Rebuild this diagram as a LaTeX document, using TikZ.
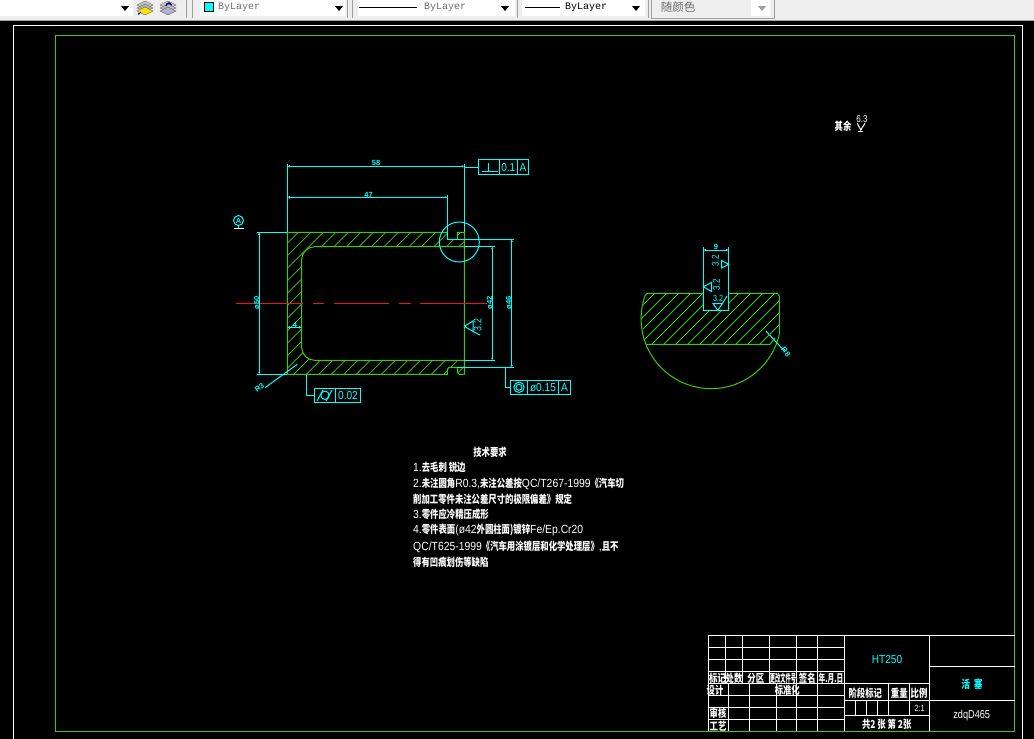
\documentclass[tikz,border=0pt]{standalone}
\usepackage{graphicx}
\usepackage{fontspec}
\setmainfont{Liberation Sans}
\newfontfamily\cadfont{Liberation Sans}[FakeStretch=0.8]
\newfontfamily\notefont{Liberation Sans}[FakeStretch=0.88]
\newfontfamily\monofont{Liberation Mono}
\newfontfamily\cjkfont{Noto Sans CJK SC}
\newfontfamily\cjknarrow{Noto Sans CJK SC}[FakeStretch=0.76]
\newcommand{\zh}[1]{{\cjknarrow\bfseries\fontsize{11}{11}\selectfont #1}}
\usepackage{tikz}
\usetikzlibrary{
    positioning,
    arrows.meta,
    calc
}
\definecolor{PartGreen}{RGB}{60,205,0}
\definecolor{DimCyan}{RGB}{0,255,255}
\definecolor{AxisRed}{RGB}{240,20,20}
\definecolor{BarGray}{RGB}{238,238,238}
\definecolor{EdgeGray}{RGB}{160,160,160}
\definecolor{TextGray}{RGB}{110,110,110}

\begin{document}
\begin{tikzpicture}[
    x=1pt, y=-1pt,
    part/.style={PartGreen, line width=1pt},
    hatchline/.style={PartGreen, line width=0.75pt},
    dim/.style={DimCyan, line width=1pt},
    dimtip/.style={dim, {Latex[length=2.5pt,width=2.5pt]}-{Latex[length=2.5pt,width=2.5pt]}},
    dimtext/.style={DimCyan, font=\bfseries\fontsize{7.5}{8}\selectfont, inner sep=0pt},
    fcfbox/.style={draw=DimCyan, line width=1pt, inner sep=0pt},
    fcftext/.style={DimCyan, font=\notefont\fontsize{11.5}{12}\selectfont, inner sep=0pt},
    title/.style={white, line width=1pt},
    cell/.style={white, font=\fontsize{10}{10}\selectfont, inner sep=0pt},
    note/.style={white, anchor=west, inner sep=0pt, font=\notefont\fontsize{11.8}{12}\selectfont},
    combo/.style={fill=white, draw=none},
    bytext/.style={font=\monofont\fontsize{10}{10}\selectfont, inner sep=0pt, anchor=west},
]
    \useasboundingbox (0,0) rectangle (1034,739);
    \fill[black] (0,0) rectangle (1034,739);

    % Toolbar
    \fill[BarGray] (0,0) rectangle (1034,19.5);
    \fill[EdgeGray] (0,19.5) rectangle (1034,20.8);
    \foreach \xa/\xb in {0/133, 200/345, 358/515, 522/645} {
        \fill[combo] (\xa,0) rectangle (\xb,16);
    }
    \draw[EdgeGray, line width=0.8pt] (651,0) -- (651,18) -- (774,18) -- (774,0);
    \fill[white] (751,0) rectangle (770,16);
    \foreach \sx in {186,192,347,352,517,648} {
        \draw[EdgeGray, line width=0.8pt] (\sx,0) -- (\sx,18);
    }
    \foreach \ax in {125,339,505,636} {
        \fill (\ax-4,6) -- (\ax+4,6) -- (\ax,11) -- cycle;
    }
    \fill[EdgeGray] (758,6) -- (766,6) -- (762,11) -- cycle;
    \fill[DimCyan] (204,2) rectangle (213,11);
    \draw[black, line width=0.5pt] (204,2) rectangle (213,11);
    \node[bytext, TextGray] (layerText) at (218,7.5) {ByLayer};
    \draw[black, line width=0.7pt] (359,7) -- (417,7);
    \node[bytext, TextGray] (typeText) at (424,7.5) {ByLayer};
    \draw[black, line width=0.7pt] (525,7) -- (560,7);
    \node[bytext, black] (weightText) at (565,7.5) {ByLayer};
    \node[TextGray, inner sep=0pt, font=\cjkfont\fontsize{11.5}{12}\selectfont] (colorText) at (678,7) {随颜色};

    % Layer icons
    \foreach \iy/\ic in {2/gray!45, 5/gray!60, 8/yellow!85!orange} {
        \filldraw[fill=\ic, draw=gray!70!black, line width=0.3pt] (145,\iy-1) -- (153,\iy+3) -- (145,\iy+7) -- (137,\iy+3) -- cycle;
    }
    \foreach \iy/\ic in {2/gray!40, 5/gray!50, 8/blue!25!gray!50} {
        \filldraw[fill=\ic, draw=gray!70!black, line width=0.3pt] (168,\iy-1) -- (176,\iy+3) -- (168,\iy+7) -- (160,\iy+3) -- cycle;
    }
    \draw[blue!50!black, line width=0.8pt, -{Latex[length=2.5pt]}] (141,12) -- (137.5,15);
    \draw[blue!50!black, line width=1.4pt] (166,6) arc[start angle=180, end angle=340, radius=3];

    % Frames
    \draw[white, line width=1pt] (13.5,739) -- (13.5,25) -- (1022.7,25) -- (1022.7,739);
    \draw[part] (55.3,35.3) rectangle (1014.5,731);

    % Hatching of the cut
    \begin{scope}
        \clip (287.3,232.3) -- (447.3,232.3) -- (447.3,239.3) -- (457.3,239.3) -- (457.3,232.3)
            -- (464.3,232.3) -- (464.3,246.7) -- (314.7,246.7) arc[start angle=270, end angle=180, radius=13]
            -- (301.7,347.3) arc[start angle=180, end angle=90, radius=13]
            -- (464.3,360.3) -- (464.3,374.3) -- (457.3,374.3) -- (457.3,367.3) -- (447.3,367.3)
            -- (447.3,374.3) -- (287.3,374.3) -- cycle;
        \foreach \pos in {0,...,26} {
            \draw[hatchline] ($(530.6,0)+(12.5*\pos,0)$) ++(-400,400) -- ++(500,-500);
        }
    \end{scope}

    % Part outline
    \draw[part] (287.3,232.3) -- (447.3,232.3) -- (447.3,239.3) -- (457.3,239.3) -- (457.3,232.3)
        -- (464.3,232.3) -- (464.3,374.3) -- (459.3,374.3) -- (457.3,372.3) -- (457.3,367.3)
        -- (449.3,367.3) -- (447.3,369.3) -- (447.3,374.3) -- (287.3,374.3) -- cycle;
    \draw[part] (464.3,246.7) -- (314.7,246.7) arc[start angle=270, end angle=180, radius=13]
        -- (301.7,347.3) arc[start angle=180, end angle=90, radius=13] -- (464.3,360.3);

    % Axis
    \foreach \xa/\xb in {236/302.7, 313.3/324, 334/389, 399/411, 420/487} {
        \draw[AxisRed, line width=1pt] (\xa,303.3) -- (\xb,303.3);
    }

    % Dimensions of the part
    \draw[dim] (287.3,232.3) -- (287.3,164);
    \draw[dim] (464.3,232.3) -- (464.3,164);
    \draw[dimtip] (287.3,166.3) -- (464.3,166.3);
    \node[dimtext] (lenA) at (376,163) {58};
    \draw[dim] (447.3,239.3) -- (447.3,195);
    \draw[dimtip] (287.3,197.3) -- (447.3,197.3);
    \node[dimtext] (lenB) at (368.5,194.5) {47};
    \draw[dim] (287.3,232.3) -- (257.3,232.3);
    \draw[dim] (287.3,374.3) -- (257.3,374.3);
    \draw[dimtip] (259.3,232.3) -- (259.3,374.3);
    \node[dimtext, rotate=90] (diaA) at (256.5,303) {ø50};
    \draw[dim] (464.3,246.7) -- (495,246.7);
    \draw[dim] (464.3,360.3) -- (495,360.3);
    \draw[dimtip] (492.3,246.7) -- (492.3,360.3);
    \node[dimtext, rotate=90] (diaB) at (489.5,303) {ø42};
    \draw[dim] (447.3,239.3) -- (514,239.3);
    \draw[dim] (457.3,367.3) -- (514,367.3);
    \draw[dimtip] (511.7,239.3) -- (511.7,367.3);
    \node[dimtext, rotate=90] (diaC) at (508.5,303) {ø46};
    \draw[dimtip] (287.3,327.3) -- (301.7,327.3);
    \node[dimtext] (wallDim) at (295,324.5) {4};
    \draw[dim] (297.3,364.3) -- (265,387.7);
    \node[dimtext, rotate=35] (radA) at (259.5,387.5) {R3};
    \draw[DimCyan, line width=1pt] (459.3,242) circle[radius=20];

    % Roughness on the bore
    \draw[dim] (464.3,326.3) -- (473,321) -- (473,331.5) -- cycle;
    \draw[dim] (473,331.5) -- (480,335);
    \node[dimtext, rotate=90, font=\cadfont\fontsize{11}{11}\selectfont] (roughBore) at (477.5,325) {3.2};

    % Datum
    \draw[dim] (238.5,220.5) circle[radius=5];
    \node[dimtext] (datumA) at (238.5,220.5) {A};
    \draw[dim] (238.5,225.5) -- (238.5,228);
    \draw[white, line width=1pt] (233.5,228) -- (243.5,228);

    % Perpendicularity frame
    \node[fcfbox, minimum width=50pt, minimum height=14.7pt] (perpBox) at (503.3,167.3) {};
    \draw[dim] (464.3,167.3) -- (perpBox.west);
    \draw[dim] (499.3,160) -- (499.3,174.7);
    \draw[dim] (517.3,160) -- (517.3,174.7);
    \draw[dim] (482,171) -- (498,171);
    \draw[dim] (488.5,162.5) -- (488.5,171);
    \node[fcftext] (perpVal) at (508.3,167.5) {0.1};
    \node[fcftext] (perpRef) at (523,167.5) {A};

    % Cylindricity frame
    \node[fcfbox, minimum width=46.4pt, minimum height=14pt] (cylBox) at (337.5,395.3) {};
    \coordinate (cylTurn) at (306.3,395.3);
    \draw[dim] (306.3,375) -- (cylTurn) -- (cylBox.west);
    \draw[dim] (335.3,388.3) -- (335.3,402.3);
    \draw[dim] (325,395.3) circle[radius=4.2];
    \draw[dim] (317,401) -- (323,390);
    \draw[dim] (326,401) -- (332,390);
    \node[fcftext] (cylVal) at (348,395.5) {0.02};

    % Concentricity frame
    \node[fcfbox, minimum width=60.4pt, minimum height=14pt] (concBox) at (540.5,387.3) {};
    \coordinate (concTurn) at (505.7,387.3);
    \draw[dim] (505.7,367.3) -- (concTurn) -- (concBox.west);
    \draw[dim] (527.7,380.3) -- (527.7,394.3);
    \draw[dim] (558.3,380.3) -- (558.3,394.3);
    \draw[dim] (519,387.3) circle[radius=5.2];
    \draw[dim] (519,387.3) circle[radius=3];
    \node[fcftext] (concVal) at (543,387.5) {ø0.15};
    \node[fcftext] (concRef) at (564.5,387.5) {A};

    % Section hatching
    \begin{scope}
        \clip (646.7,293.3) -- (703.3,293.3) -- (703.3,310.3) -- (728.7,310.3) -- (728.7,293.3)
            -- (777.3,293.3) -- (779.3,296) -- (779.3,334) -- (775,338) -- (770,344.3) -- (646,344.3)
            -- (641,318.7) -- (644.8,295.9) -- cycle;
        \foreach \pos in {0,...,17} {
            \draw[hatchline] ($(936,0)+(12*\pos,0)$) ++(-400,400) -- ++(500,-500);
        }
    \end{scope}

    % Section outline
    \draw[part] (644.8,295.9) -- (646.7,293.3) -- (703.3,293.3) -- (703.3,310.3) -- (728.7,310.3) -- (728.7,293.3)
        -- (777.3,293.3) -- (779.3,296) -- (779.3,334.4);
    \draw[part] (779.3,334.4) arc[start angle=13, end angle=199, radius=70];
    \draw[part] (646,344.3) -- (770,344.3) -- (775,338);

    % Section dimensions
    \draw[dim] (703.3,310.3) -- (703.3,246.7);
    \draw[dim] (728.7,310.3) -- (728.7,246.7);
    \draw[dim] (703.3,310.3) -- (728.7,310.3);
    \draw[dimtip] (703.3,250) -- (728.7,250);
    \node[dimtext] (slotDim) at (716,247) {9};
    \draw[dim] (721.5,260.5) -- (728.7,264.3) -- (721.5,268) -- cycle;
    \node[dimtext, rotate=90, font=\cadfont\fontsize{10}{10}\selectfont] (roughA) at (715.5,261) {3.2};
    \draw[dim] (711.5,282.5) -- (703.3,286.7) -- (711.5,291.5) -- cycle;
    \node[dimtext, rotate=90, font=\cadfont\fontsize{10}{10}\selectfont] (roughB) at (716.5,285) {3.2};
    \draw[dim] (713,303.5) -- (717.7,310.3) -- (722.5,303.5) -- cycle;
    \draw[dim] (722.5,303.5) -- (727,296);
    \node[dimtext, font=\cadfont\fontsize{9}{9}\selectfont] (roughC) at (718,298) {3.2};
    \draw[dim] (766,331) -- (785,351.7);
    \node[dimtext, rotate=-50] (radB) at (786,352) {R8};

    % General roughness
    \node[white, inner sep=0pt] (restText) at (843,126.5) {\zh{其余}};
    \node[white, inner sep=0pt, font=\cadfont\fontsize{10}{10}\selectfont] (restVal) at (862,119.5) {6.3};
    \draw[white, line width=1pt] (857.3,123.3) -- (860.7,130) -- (865,123.3);
    \draw[white, line width=1pt] (858,131) -- (863,131);

    % Technical notes
    \node[white, inner sep=0pt] (noteTitle) at (490,452) {\zh{技术要求}};
    \node[note] (noteA) at (413,467.5) {1.\zh{去毛刺 锐边}};
    \node[note] (noteB) at (413,484) {2.\zh{未注圆角}R0.3,\zh{未注公差按}QC/T267-1999\zh{《汽车切}};
    \node[note] (noteC) at (413,499) {\zh{削加工零件未注公差尺寸的极限偏差》规定}};
    \node[note] (noteD) at (413,514) {3.\zh{零件应冷精压成形}};
    \node[note] (noteE) at (413,529.5) {4.\zh{零件表面}(ø42\zh{外圆柱面)镀锌}Fe/Ep.Cr20};
    \node[note] (noteF) at (413,546.5) {QC/T625-1999\zh{《汽车用涂镀层和化学处理层》},\zh{且不}};
    \node[note] (noteG) at (413,562) {\zh{得有凹痕划伤等缺陷}};

    % Title block
    \draw[title] (708.3,635.3) -- (1014.5,635.3);
    \draw[title] (708.3,731) -- (708.3,635.3);
    \foreach \ry in {647.3,659.3,671.3,683.3,695.3,707.3,719.3} {
        \draw[title] (708.3,\ry) -- (844.3,\ry);
    }
    \foreach \cx in {725.7,742.7,769.3,796.3,817.3} {
        \draw[title] (\cx,635.3) -- (\cx,683.3);
    }
    \foreach \cx in {728.7,749.3,776.3,796.3,817.3} {
        \draw[title] (\cx,683.3) -- (\cx,731);
    }
    \draw[title] (844.3,635.3) -- (844.3,731);
    \draw[title] (929.3,635.3) -- (929.3,731);
    \draw[title] (844.3,683.3) -- (929.3,683.3);
    \draw[title] (844.3,700.3) -- (1014.5,700.3);
    \draw[title] (844.3,715.3) -- (929.3,715.3);
    \draw[title] (929.3,666.3) -- (1014.5,666.3);
    \draw[title] (888.3,683.3) -- (888.3,715.3);
    \draw[title] (909.7,683.3) -- (909.7,715.3);
    \foreach \cx in {855.3,866.3,877.3} {
        \draw[title] (\cx,700.3) -- (\cx,715.3);
    }

    % Title block texts
    \node[cell, DimCyan, font=\notefont\fontsize{11.5}{12}\selectfont] (material) at (887,659.5) {HT250};
    \node[cell, DimCyan] (partName) at (972,684.5) {\zh{活\hspace{4pt}塞}};
    \node[cell, font=\cadfont\fontsize{11.5}{12}\selectfont] (partCode) at (971.7,716) {zdqD465};
    \node[cell, font=\cadfont\fontsize{9}{9}\selectfont] (scaleVal) at (919.7,708.3) {2:1};
    \node[cell] (stageHead) at (865.3,693.3) {\zh{阶段标记}};
    \node[cell] (weightHead) at (899.3,693.3) {\zh{重量}};
    \node[cell] (scaleHead) at (919,693.3) {\zh{比例}};
    \node[cell] (sheetText) at (886.7,724) {\zh{共2 张 第 2张}};
    \foreach \cx/\lab/\nm in {717.4/标记/headA, 734/处数/headB, 755.8/分区/headC, 807.3/签名/headE} {
        \node[cell] (\nm) at (\cx,678.3) {\zh{\lab}};
    }
    \node[cell] (headD) at (783,678.3) {\scalebox{0.63}[1]{\zh{更改文件号}}};
    \node[cell] (headF) at (831,678.3) {\scalebox{0.8}[1]{\zh{年.月.日}}};
    \foreach \cy/\lab/\cx/\nm in {690/设计/715/roleA, 690/标准化/787.3/roleB, 713/审核/718/roleC, 726/工艺/718/roleD} {
        \node[cell] (\nm) at (\cx,\cy) {\zh{\lab}};
    }

\end{tikzpicture}
\end{document}
